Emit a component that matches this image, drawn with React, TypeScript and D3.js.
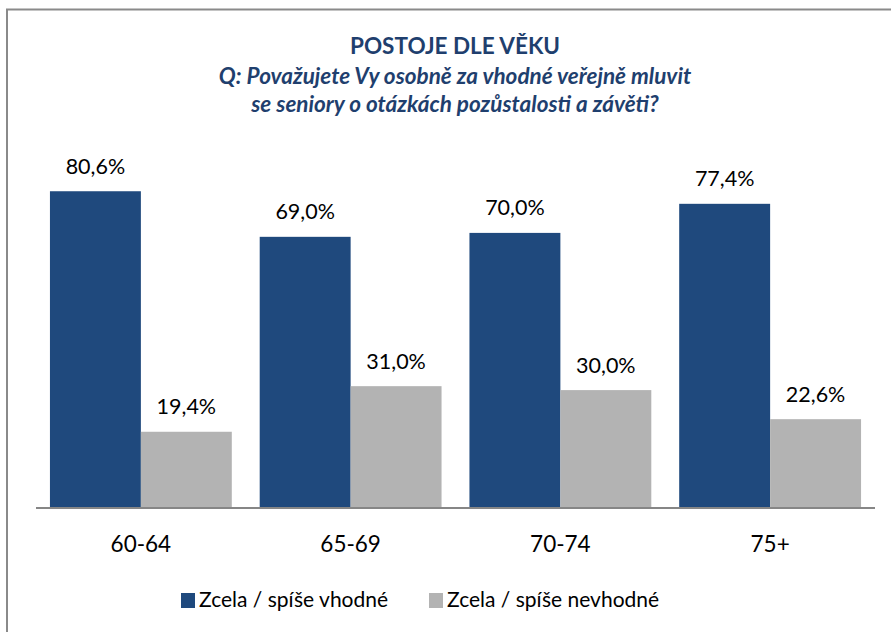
import React from "react";
import * as d3 from "d3";

const categories = ["60-64", "65-69", "70-74", "75+"];
const seriesNames = ["Zcela / spíše vhodné", "Zcela / spíše nevhodné"];
const suitable = [80.6, 69.0, 70.0, 77.4];
const unsuitable = [19.4, 31.0, 30.0, 22.6];
const titleText = "POSTOJE DLE VĚKU";
const subtitleLines = [
  "Q: Považujete Vy osobně za vhodné veřejně mluvit",
  "se seniory o otázkách pozůstalosti a závěti?",
];

const W = 891;
const H = 632;
const colors = ["#1F497D", "#B3B3B3"];
const FONT = "Lato, 'Open Sans', sans-serif";

export default function App() {
  const x0 = d3.scaleBand<string>().domain(categories).range([36, 875]).paddingInner(0.133).paddingOuter(0.0665);
  const x1 = d3.scaleBand<string>().domain(["a", "b"]).range([0, x0.bandwidth()]);
  const y = d3.scaleLinear().domain([0, 100]).range([508, 115]);
  const series = [suitable, unsuitable];
  const fmt = (v: number) => v.toFixed(1).replace(".", ",") + "%";

  return (
    <div style={{ position: "absolute", left: 0, top: 0 }}>
      <svg width={W} height={H} style={{ display: "block" }} fontFamily={FONT}>
        <rect x={0} y={0} width={W} height={H} fill="#fff" />
        <rect x={7} y={9.5} width={W + 20} height={H + 20} fill="none" stroke="#8a8a8a" strokeWidth={2} />
        <text x={455} y={54} textAnchor="middle" fontSize={22.5} fontWeight="bold" fill="#1F3F6E">
          {titleText}
        </text>
        {subtitleLines.map((l, i) => (
          <text key={i} x={455} y={84 + i * 28} textAnchor="middle" fontSize={22.5} fontWeight="bold" fontStyle="italic" fill="#1F3F6E">
            {l}
          </text>
        ))}
        {categories.map((c, ci) => (
          <g key={c} transform={`translate(${x0(c)},0)`}>
            {series.map((s, si) => {
              const key = si === 0 ? "a" : "b";
              const bx = x1(key)!;
              const top = y(s[ci]);
              return (
                <g key={si}>
                  <rect x={bx} y={top} width={x1.bandwidth()} height={y(0) - top} fill={colors[si]} />
                  <text x={bx + x1.bandwidth() / 2} y={top - 17.5} textAnchor="middle" fontSize={21.5} fill="#000">
                    {fmt(s[ci])}
                  </text>
                </g>
              );
            })}
            <text x={x0.bandwidth() / 2} y={552} textAnchor="middle" fontSize={22.5} fill="#000">
              {c}
            </text>
          </g>
        ))}
        <line x1={36} x2={875} y1={508} y2={508} stroke="#868686" strokeWidth={2} />
        <g>
          <rect x={181} y={593} width={14} height={15} fill={colors[0]} />
          <text x={199} y={607} fontSize={21} fill="#000">{seriesNames[0]}</text>
          <rect x={429} y={593} width={14} height={15} fill={colors[1]} />
          <text x={447} y={607} fontSize={21} fill="#000">{seriesNames[1]}</text>
        </g>
      </svg>
    </div>
  );
}
